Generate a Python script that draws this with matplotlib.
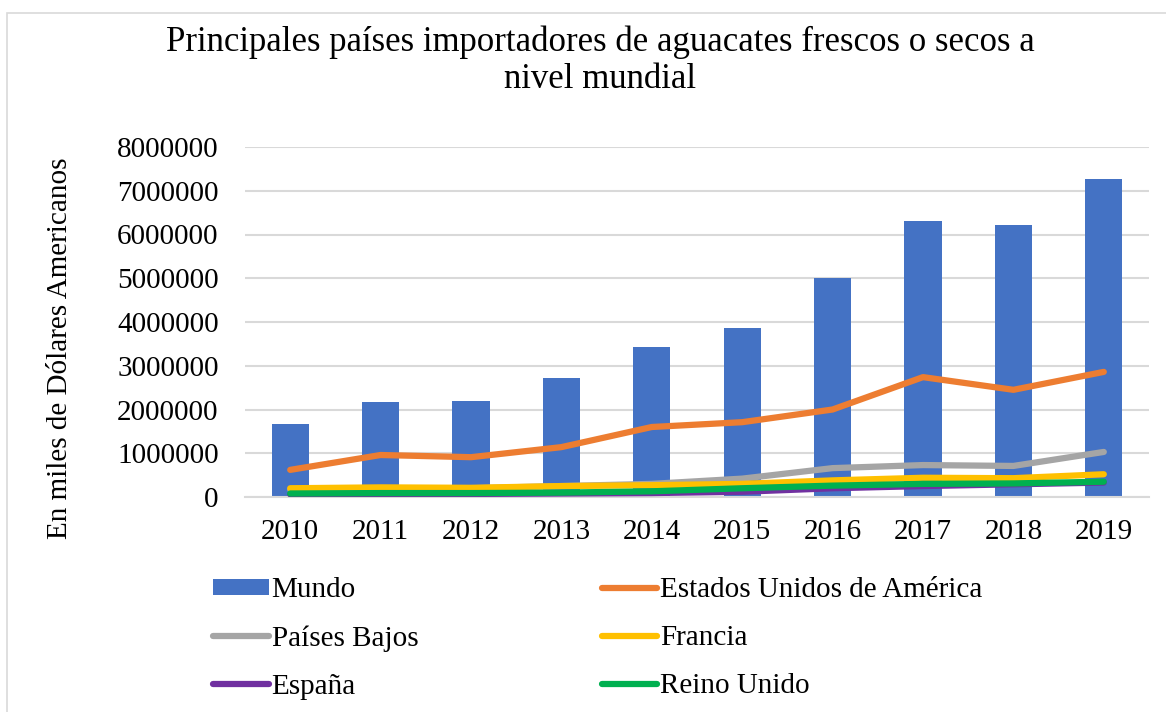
import matplotlib.pyplot as plt
from matplotlib.patches import Rectangle

plt.rcParams['font.family'] = ['Liberation Serif', 'DejaVu Serif']

years = ["2010", "2011", "2012", "2013", "2014", "2015", "2016", "2017", "2018", "2019"]
mundo = [1670000, 2170000, 2190000, 2720000, 3430000, 3860000, 5000000, 6300000, 6220000, 7270000]
eeuu = [620000, 960000, 910000, 1140000, 1600000, 1710000, 2000000, 2740000, 2450000, 2860000]
paises_bajos = [170000, 200000, 200000, 250000, 300000, 420000, 660000, 730000, 710000, 1030000]
francia = [200000, 220000, 210000, 250000, 270000, 300000, 380000, 440000, 430000, 520000]
espana = [60000, 70000, 70000, 80000, 90000, 120000, 200000, 250000, 290000, 330000]
reino_unido = [80000, 90000, 90000, 100000, 130000, 200000, 260000, 300000, 310000, 350000]

fig = plt.figure(figsize=(11.66, 7.12), dpi=100)
ax = fig.add_axes([245/1166, 1-497/712, (1149-245)/1166, 350/712])

x = list(range(len(years)))
ax.bar(x, mundo, width=0.41, color="#4472C4", label="Mundo", zorder=2)
ax.plot(x, eeuu, color="#ED7D31", lw=4.5, label="Estados Unidos de América", zorder=3, solid_capstyle="round")
ax.plot(x, paises_bajos, color="#A5A5A5", lw=4.5, label="Países Bajos", zorder=3, solid_capstyle="round")
ax.plot(x, francia, color="#FFC000", lw=4.5, label="Francia", zorder=3, solid_capstyle="round")
ax.plot(x, espana, color="#7030A0", lw=4.5, label="España", zorder=3, solid_capstyle="round")
ax.plot(x, reino_unido, color="#00B050", lw=4.5, label="Reino Unido", zorder=3, solid_capstyle="round")

ax.set_xlim(-0.5, len(years) - 0.5)
ax.set_ylim(0, 8000000)
ax.set_yticks(range(0, 8000001, 1000000))
ax.set_yticklabels([str(v) for v in range(0, 8000001, 1000000)])
ax.set_xticks(x)
ax.set_xticklabels(years)
ax.tick_params(axis="y", length=0, labelsize=21, pad=19)
ax.tick_params(axis="x", length=0, labelsize=21, pad=16)
ax.yaxis.grid(True, color="#D9D9D9", lw=1.5, zorder=0)
ax.set_axisbelow(True)
for s in ["top", "right", "left"]:
    ax.spines[s].set_visible(False)
ax.spines["bottom"].set_color("#D9D9D9")
ax.spines["bottom"].set_linewidth(1.5)

ax.set_ylabel("En miles de Dólares Americanos", fontsize=21)
ax.yaxis.set_label_coords(-0.19, 0.426)

fig.text(0.515, 0.915, "Principales países importadores de aguacates frescos o secos a\nnivel mundial",
         ha="center", va="center", fontsize=25, linespacing=1.15)

# legend fills column-wise, reorder so rows read Mundo/EEUU, PB/Francia, España/RU
handles, labels = ax.get_legend_handles_labels()
order = [5, 1, 3, 0, 2, 4]
fig.legend([handles[i] for i in order], [labels[i] for i in order], ncol=2,
           loc="upper left", bbox_to_anchor=(187/1166, 1-551/712), frameon=False,
           fontsize=21, handlelength=1.9, handletextpad=0.1, columnspacing=6.3,
           labelspacing=0.75, handleheight=0.5)

fig.patches.append(Rectangle((7/1166, -0.01), 1.0, 1 - 13/712 + 0.01, transform=fig.transFigure,
                             fill=False, edgecolor="#D9D9D9", lw=1.2))

fig.savefig("out.png", dpi=100)
